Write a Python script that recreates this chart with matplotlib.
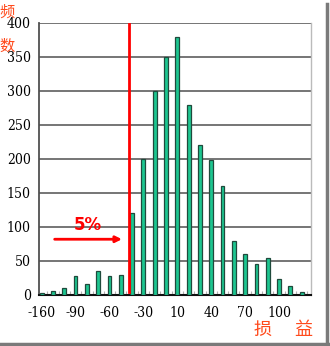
import matplotlib
matplotlib.use("Agg")
import matplotlib.pyplot as plt
from matplotlib.lines import Line2D
from matplotlib import font_manager as fm

# Frequency of each profit/loss bin
counts = [3, 6, 10, 28, 16, 35, 28, 30, 120, 200, 300, 350, 380, 280,
          220, 198, 160, 80, 60, 45, 55, 23, 13, 4]
tick_idx = [0, 3, 6, 9, 12, 15, 18, 21]
tick_labels = ["-160", "-90", "-60", "-30", "10", "40", "70", "100"]
y_ticks = [0, 50, 100, 150, 200, 250, 300, 350, 400]

# 5% tail cut position (in bin units) and annotation placement
cut_pos = 7.75
arrow_y = 82
arrow_x0, arrow_x1 = 1.15, 7.1

# Prefer a narrow face for the numeric labels
narrow = None
for f in fm.fontManager.ttflist:
    if f.stretch in ("condensed", "semi-condensed", "extra-condensed") or \
       "Narrow" in f.name or "Condensed" in f.fname:
        if "Serif" in f.fname and "Bold" not in f.fname and "Oblique" not in f.fname \
           and "Italic" not in f.fname:
            narrow = fm.FontProperties(fname=f.fname)
            break
if narrow is None:
    for f in fm.fontManager.ttflist:
        if ("Narrow" in f.name or "Condensed" in f.fname) and "Bold" not in f.fname \
           and "Italic" not in f.fname and "Oblique" not in f.fname:
            narrow = fm.FontProperties(fname=f.fname)
            break
if narrow is None:
    narrow = fm.FontProperties(family="Liberation Serif")
narrow.set_size(10)

cjk = ["Noto Sans CJK SC", "DejaVu Sans"]

fig = plt.figure(figsize=(3.30, 3.46), dpi=100)
ax = fig.add_axes([38.5 / 330, 51 / 346, (310.7 - 38.5) / 330, 272 / 346])

x = list(range(len(counts)))
ax.bar(x, counts, width=0.34, color="#1DC690", edgecolor="#1F4A3C",
       linewidth=0.9, zorder=3)

ax.set_xlim(-0.28, 23.8)
ax.set_ylim(0, 400)
ax.set_yticks(y_ticks)
ax.set_yticklabels([str(v) for v in y_ticks], fontproperties=narrow)
ax.set_xticks(tick_idx)
ax.set_xticklabels(tick_labels, fontproperties=narrow)
ax.set_xticks([i + 0.5 for i in range(len(counts))], minor=True)
ax.tick_params(axis="y", which="major", length=0, pad=5.5)
ax.tick_params(axis="x", which="minor", direction="in", length=3,
               color="#B0B0B0", width=0.8)
ax.tick_params(axis="x", which="major", length=0, pad=8)

ax.grid(axis="y", color="#6A6A6A", linewidth=1.3, zorder=0)
ax.set_axisbelow(True)
ax.spines["top"].set_visible(False)
ax.spines["right"].set_color("#BBBBBB")
ax.spines["right"].set_linewidth(1.0)
ax.spines["left"].set_color("#505050")
ax.spines["left"].set_linewidth(1.3)
ax.spines["bottom"].set_color("#101010")
ax.spines["bottom"].set_linewidth(1.5)

# VaR cut-off line and tail annotation
ax.plot([cut_pos, cut_pos], [5, 398], color="#FF0000", linewidth=2.0, zorder=4)
ax.annotate("", xy=(arrow_x1, arrow_y), xytext=(arrow_x0, arrow_y),
            arrowprops=dict(arrowstyle="-|>", color="#FF0000", lw=2.0,
                            mutation_scale=9, shrinkA=0, shrinkB=0), zorder=5)
ax.text((arrow_x0 + arrow_x1) / 2, 103, "5%", color="#FF0000", fontsize=12,
        fontweight="bold", ha="center", va="center", zorder=5)

# Axis titles
fig.text(7 / 330, 1 - 12.5 / 346, "频", color="#FF4A1C", fontsize=11,
         family=cjk, ha="center", va="center")
fig.text(7 / 330, 1 - 46 / 346, "数", color="#FF4A1C", fontsize=11,
         family=cjk, ha="center", va="center")
fig.text(262 / 330, 1 - 330 / 346, "损", color="#FF4A1C", fontsize=13,
         family=cjk, ha="center", va="center")
fig.text(303 / 330, 1 - 330 / 346, "益", color="#FF4A1C", fontsize=13,
         family=cjk, ha="center", va="center")

# Drop-shadow frame
fig.add_artist(Line2D([326.5 / 330, 326.5 / 330], [1 - 4 / 346, 1 - 344 / 346],
                      transform=fig.transFigure, color="#7A7A7A", linewidth=2.5))
fig.add_artist(Line2D([0, 328 / 330], [1 - 343.5 / 346, 1 - 343.5 / 346],
                      transform=fig.transFigure, color="#7A7A7A", linewidth=2.5))

fig.savefig("out.png", dpi=100)
